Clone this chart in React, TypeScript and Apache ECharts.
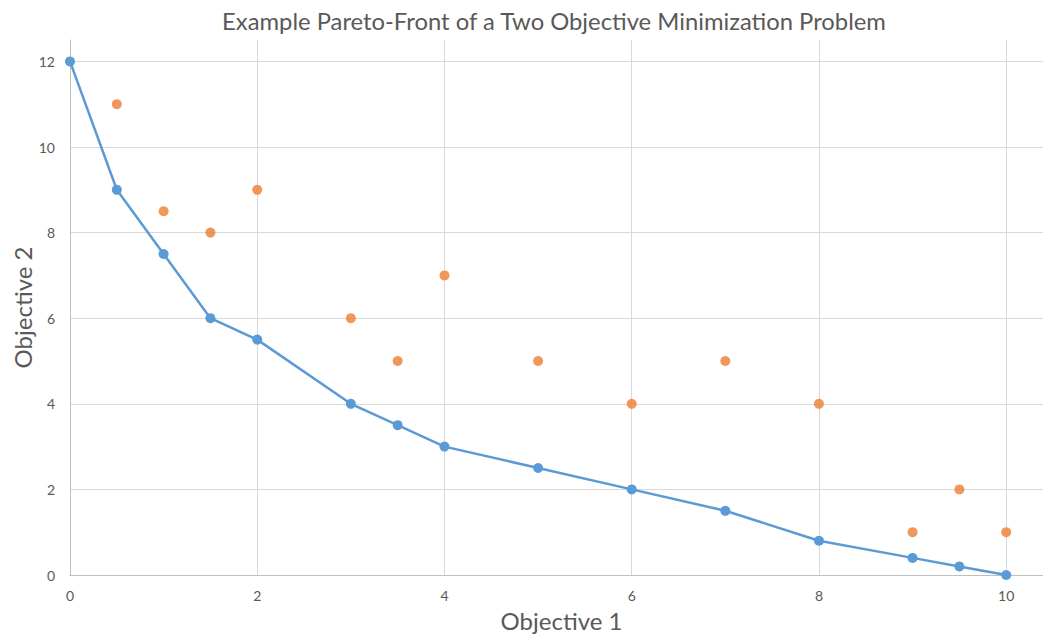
import React, { useEffect, useRef } from "react";
import * as echarts from "echarts";

// Pareto-optimal front (objective 1, objective 2)
const frontX = [0, 0.5, 1, 1.5, 2, 3, 3.5, 4, 5, 6, 7, 8, 9, 9.5, 10];
const frontY = [12, 9, 7.5, 6, 5.5, 4, 3.5, 3, 2.5, 2, 1.5, 0.8, 0.4, 0.2, 0];

// Dominated solutions
const dominatedX = [0.5, 1, 1.5, 2, 3, 3.5, 4, 5, 6, 7, 8, 9, 9.5, 10];
const dominatedY = [11, 8.5, 8, 9, 6, 5, 7, 5, 4, 5, 4, 1, 2, 1];

const titleText = "Example Pareto-Front of a Two Objective Minimization Problem";
const xName = "Objective 1";
const yName = "Objective 2";

const FONT = "Lato, 'Open Sans', sans-serif";
const TEXT = "#595959";

export default function App() {
  const ref = useRef<HTMLDivElement>(null);

  useEffect(() => {
    if (!ref.current) return;
    const chart = echarts.init(ref.current, null, { renderer: "svg" });
    chart.setOption({
      animation: false,
      backgroundColor: "#ffffff",
      title: {
        text: titleText,
        left: 549,
        textAlign: "center",
        top: 4,
        textStyle: { fontFamily: FONT, fontSize: 23.8, fontWeight: "normal", color: TEXT },
      },
      // the plot area runs a little past the visible right edge
      grid: {
        left: 70,
        right: 0,
        top: 40,
        bottom: 62,
        containLabel: false,
        outerBoundsMode: "none",
      },
      xAxis: {
        type: "value",
        min: 0,
        max: 10.5,
        interval: 2,
        name: xName,
        nameLocation: "middle",
        nameGap: 33,
        nameTextStyle: { fontFamily: FONT, fontSize: 24, color: TEXT },
        axisLine: { show: true, onZero: false, lineStyle: { color: "#bfbfbf", width: 1 } },
        axisTick: { show: false },
        axisLabel: { showMaxLabel: false, fontFamily: FONT, fontSize: 14, color: TEXT, margin: 13 },
        splitLine: { show: true, showMinLine: false, showMaxLine: false, lineStyle: { color: "#d9d9d9", width: 1 } },
      },
      yAxis: {
        type: "value",
        min: 0,
        max: 12.5,
        interval: 2,
        name: yName,
        nameLocation: "middle",
        nameGap: 36,
        nameMoveOverlap: false,
        nameTextStyle: { fontFamily: FONT, fontSize: 24, color: TEXT },
        axisLine: { show: true, onZero: false, lineStyle: { color: "#bfbfbf", width: 1 } },
        axisTick: { show: false },
        axisLabel: { showMaxLabel: false, fontFamily: FONT, fontSize: 14, color: TEXT, margin: 15 },
        splitLine: { show: true, showMinLine: false, showMaxLine: false, lineStyle: { color: "#d9d9d9", width: 1 } },
      },
      series: [
        {
          name: "Pareto front",
          type: "line",
          data: frontX.map((x, i) => [x, frontY[i]]),
          symbol: "circle",
          symbolSize: 10,
          lineStyle: { color: "#5b9bd5", width: 2.5 },
          itemStyle: { color: "#5b9bd5" },
          z: 3,
        },
        {
          name: "Dominated",
          type: "scatter",
          data: dominatedX.map((x, i) => [x, dominatedY[i]]),
          symbol: "circle",
          symbolSize: 10,
          itemStyle: { color: "#ed7d31" },
          z: 2,
        },
      ],
    });
    return () => chart.dispose();
  }, []);

  return (
    <div style={{ position: "fixed", left: 0, top: 0, width: 1043, height: 637, overflow: "hidden" }}>
      <div ref={ref} style={{ width: 1053, height: 637 }} />
    </div>
  );
}
